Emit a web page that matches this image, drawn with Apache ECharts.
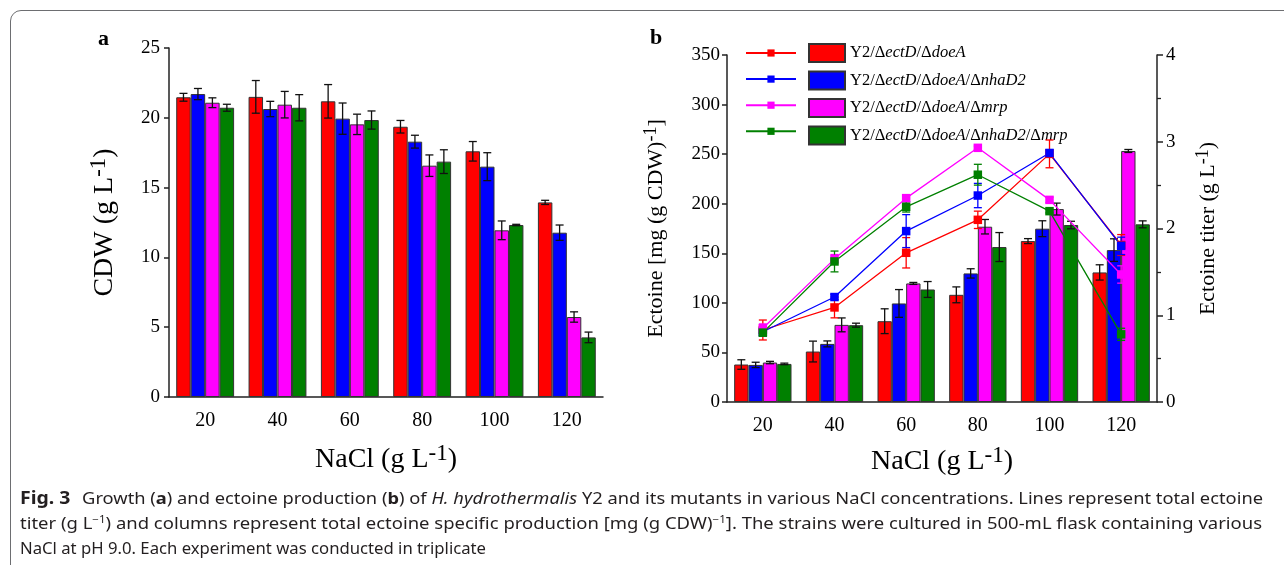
<!DOCTYPE html>
<html>
<head>
<meta charset="utf-8">
<script src="https://cdn.jsdelivr.net/npm/echarts@6/dist/echarts.min.js"></script>
<style>
  html, body { margin: 0; padding: 0; background: #fff; }
  body { width: 1284px; height: 565px; overflow: hidden; position: relative; }
  #chart { position: absolute; left: 0; top: 0; width: 1284px; height: 565px; }
  #frame { position: absolute; left: 10px; top: 10px; width: 1400px; height: 700px;
           border: 1px solid #6d6e71; border-radius: 11px; }
  #caption { position: absolute; left: 20px; top: 485px; color: #231f20;
             font-family: "Liberation Sans Narrow", "Noto Sans", sans-serif; font-size: 16px; }
  #caption div { white-space: nowrap; height: 25.5px; line-height: 25.5px; transform-origin: 0 50%; }
  #caption sup { font-size: 10px; line-height: 0; }
  #caption .fig { font-weight: bold; font-size: 17px; margin-right: 6px; }
</style>
</head>
<body>
<div id="frame"></div>
<div id="chart"></div>
<div id="caption">
  <div data-w="1243"><span class="fig">Fig. 3</span> Growth (<b>a</b>) and ectoine production (<b>b</b>) of <i>H. hydrothermalis</i> Y2 and its mutants in various NaCl concentrations. Lines represent total ectoine</div>
  <div data-w="1242">titer (g L<sup>−1</sup>) and columns represent total ectoine specific production [mg (g CDW)<sup>−1</sup>]. The strains were cultured in 500-mL flask containing various</div>
  <div data-w="466">NaCl at pH 9.0. Each experiment was conducted in triplicate</div>
</div>
<script>
// NaCl concentrations (g/L)
const nacl = ['20', '40', '60', '80', '100', '120'];

// strains (legend labels)
const strains = ['Y2/ΔectD/ΔdoeA', 'Y2/ΔectD/ΔdoeA/ΔnhaD2', 'Y2/ΔectD/ΔdoeA/Δmrp', 'Y2/ΔectD/ΔdoeA/ΔnhaD2/Δmrp'];
const colors = ['#ff0000', '#0000ff', '#ff00ff', '#008000'];

// panel a: CDW (g/L)
const cdw1 = [21.47, 21.5, 21.18, 19.36, 17.6, 13.94];
const cdw2 = [21.7, 20.63, 19.94, 18.29, 16.5, 11.77];
const cdw3 = [21.08, 20.94, 19.53, 16.57, 11.94, 5.73];
const cdw4 = [20.72, 20.72, 19.84, 16.86, 12.32, 4.27];
const cdwErr1 = [0.28, 1.17, 1.2, 0.45, 0.7, 0.15];
const cdwErr2 = [0.4, 0.55, 1.12, 0.46, 1.0, 0.55];
const cdwErr3 = [0.35, 0.95, 0.73, 0.77, 0.67, 0.37];
const cdwErr4 = [0.25, 0.94, 0.65, 0.85, 0.05, 0.38];

// panel b columns: specific production [mg (g CDW)^-1]
const prod1 = [37.8, 50.9, 81.5, 108.1, 162.3, 130.7];
const prod2 = [37.4, 58.6, 99.4, 129.7, 174.8, 153.2];
const prod3 = [39.8, 77.8, 119.6, 176.8, 194.6, 253.2];
const prod4 = [38.4, 77.5, 113.5, 156.3, 178.5, 179.2];
const prodErr1 = [4.8, 10.5, 12.5, 8, 2.5, 7.7];
const prodErr2 = [2.7, 3, 14, 4.7, 8, 11.4];
const prodErr3 = [1.2, 7, 1, 7.3, 6, 1.5];
const prodErr4 = [0.8, 2, 8, 14.6, 3.8, 3.5];

// panel b lines: ectoine titer (g/L)
const titer1 = [0.83, 1.09, 1.72, 2.10, 2.86, 1.81];
const titer2 = [0.81, 1.21, 1.97, 2.38, 2.87, 1.80];
const titer3 = [0.85, 1.65, 2.35, 2.93, 2.33, 1.47];
const titer4 = [0.80, 1.62, 2.25, 2.62, 2.20, 0.78];
const titerErr1 = [0.115, 0.12, 0.175, 0.1, 0.16, 0.12];
const titerErr2 = [0.05, 0.03, 0.19, 0.14, 0.04, 0.1];
const titerErr3 = [0.05, 0.05, 0.04, 0.02, 0.03, 0.1];
const titerErr4 = [0.04, 0.12, 0.06, 0.12, 0.02, 0.07];

const cdw = [cdw1, cdw2, cdw3, cdw4];
const cdwErr = [cdwErr1, cdwErr2, cdwErr3, cdwErr4];
const prod = [prod1, prod2, prod3, prod4];
const prodErr = [prodErr1, prodErr2, prodErr3, prodErr4];
const titer = [titer1, titer2, titer3, titer4];
const titerErr = [titerErr1, titerErr2, titerErr3, titerErr4];

const serif = 'Liberation Serif, Times New Roman, serif';
const axisColor = '#222';

// rich styles for "(g L-1)" style names
function supRich(size, supSize, lift) {
  return {
    n: { fontFamily: serif, fontSize: size, color: '#000' },
    s: { fontFamily: serif, fontSize: supSize, color: '#000', padding: [0, 0, lift, 0] }
  };
}

// legend labels with italic gene names
const legendRich = {
  n: { fontFamily: serif, fontSize: 16.5, color: '#000', lineHeight: 18 },
  i: { fontFamily: serif, fontSize: 16.5, color: '#000', fontStyle: 'italic', lineHeight: 18 }
};
function legendLabel(name) {
  return name.split('/').map((p, k) => {
    if (k === 0) return '{n|' + p + '}';
    return '{n|/Δ}{i|' + p.slice(1) + '}';
  }).join('');
}

// error bar renderer; slot = index of bar in group (or null for line points)
function errRender(slot, color, nBars) {
  return function (params, api) {
    const cat = api.value(0), v = api.value(1), e = api.value(2);
    let x = api.coord([cat, v])[0];
    if (slot !== null) {
      const bw = api.size([1, 0])[0] * 0.8 / nBars;
      x += (slot - (nBars - 1) / 2) * bw;
    }
    const y1 = api.coord([cat, v + e])[1];
    const y2 = api.coord([cat, v - e])[1];
    const c = 4;
    const st = { stroke: color, lineWidth: 1.3 };
    return {
      type: 'group',
      children: [
        { type: 'line', shape: { x1: x, y1: y1, x2: x, y2: y2 }, style: st },
        { type: 'line', shape: { x1: x - c, y1: y1, x2: x + c, y2: y1 }, style: st },
        { type: 'line', shape: { x1: x - c, y1: y2, x2: x + c, y2: y2 }, style: st }
      ]
    };
  };
}

function errData(vals, errs) {
  return vals.map((v, i) => [i, v, errs[i]]);
}

const commonCatAxis = {
  type: 'category',
  data: nacl,
  axisLine: { lineStyle: { color: axisColor, width: 1.5 } },
  axisTick: { alignWithLabel: true, length: 5, lineStyle: { color: axisColor, width: 1.5 } },
  axisLabel: { fontFamily: serif, fontSize: 20, color: '#000', margin: 14 },
  nameLocation: 'middle',
  nameTextStyle: { rich: supRich(28, 23, 12) }
};

const series = [];

// panel a bars + errors
cdw.forEach((d, k) => {
  series.push({
    type: 'bar', name: strains[k] + ' a', xAxisIndex: 0, yAxisIndex: 0, data: d,
    barGap: '0%', barCategoryGap: '20%',
    itemStyle: { color: colors[k], borderColor: '#333', borderWidth: 1 }, z: 2
  });
});
cdw.forEach((d, k) => {
  series.push({
    type: 'custom', xAxisIndex: 0, yAxisIndex: 0, data: errData(d, cdwErr[k]),
    renderItem: errRender(k, '#111', 4), z: 3, silent: true
  });
});

// panel b bars + errors
prod.forEach((d, k) => {
  series.push({
    type: 'bar', name: strains[k], xAxisIndex: 1, yAxisIndex: 1, data: d,
    barGap: '0%', barCategoryGap: '20%',
    itemStyle: { color: colors[k], borderColor: '#333', borderWidth: 1 }, z: 2
  });
});
prod.forEach((d, k) => {
  series.push({
    type: 'custom', xAxisIndex: 1, yAxisIndex: 1, data: errData(d, prodErr[k]),
    renderItem: errRender(k, '#111', 4), z: 3, silent: true
  });
});

// panel b lines + errors (right axis)
titer.forEach((d, k) => {
  series.push({
    type: 'line', name: 'line' + k, xAxisIndex: 1, yAxisIndex: 2, data: d,
    symbol: 'rect', symbolSize: 8.5,
    lineStyle: { color: colors[k], width: 1.3 },
    itemStyle: { color: colors[k] }, z: 5
  });
});
titer.forEach((d, k) => {
  series.push({
    type: 'custom', xAxisIndex: 1, yAxisIndex: 2, data: errData(d, titerErr[k]),
    renderItem: errRender(null, colors[k], 4), z: 4, silent: true
  });
});

const chart = echarts.init(document.getElementById('chart'), null, { renderer: 'canvas' });

chart.setOption({
  animation: false,
  backgroundColor: 'transparent',
  title: [
    { text: 'a', left: 93, top: 23, textStyle: { fontFamily: serif, fontSize: 22, fontWeight: 'bold', color: '#000' } },
    { text: 'b', left: 645, top: 22, textStyle: { fontFamily: serif, fontSize: 22, fontWeight: 'bold', color: '#000' } }
  ],
  legend: [
    {
      data: ['line0', 'line1', 'line2', 'line3'],
      orient: 'vertical', left: 740, top: 43.5,
      itemWidth: 50, itemHeight: 9, itemGap: 18,
      formatter: () => '', selectedMode: false
    },
    {
      data: strains,
      orient: 'vertical', left: 803, top: 38,
      icon: 'rect',
      itemWidth: 36, itemHeight: 18, itemGap: 7.5,
      formatter: legendLabel,
      textStyle: { rich: legendRich },
      selectedMode: false
    }
  ],
  grid: [
    { left: 169, top: 48, width: 434, height: 349 },
    { left: 727, top: 55, width: 430, height: 347 }
  ],
  xAxis: [
    Object.assign({}, commonCatAxis, { gridIndex: 0, name: '{n|NaCl (g L}{s|-1}{n|)}', nameGap: 45 }),
    Object.assign({}, commonCatAxis, { gridIndex: 1, name: '{n|NaCl (g L}{s|-1}{n|)}', nameGap: 42 })
  ],
  yAxis: [
    {
      type: 'value', gridIndex: 0, min: 0, max: 25, interval: 5,
      axisLine: { show: true, lineStyle: { color: axisColor, width: 1.5 } },
      axisTick: { show: true, length: 5, lineStyle: { color: axisColor, width: 1.5 } },
      splitLine: { show: false },
      axisLabel: { fontFamily: serif, fontSize: 19, color: '#000', margin: 9 },
      name: '{n|CDW (g L}{s|-1}{n|)}', nameLocation: 'middle', nameRotate: 90, nameGap: 47,
      nameTextStyle: { rich: supRich(28, 23, 12) }
    },
    {
      type: 'value', gridIndex: 1, min: 0, max: 350, interval: 50,
      axisLine: { show: true, lineStyle: { color: axisColor, width: 1.5 } },
      axisTick: { show: true, length: 5, lineStyle: { color: axisColor, width: 1.5 } },
      splitLine: { show: false },
      axisLabel: { fontFamily: serif, fontSize: 19, color: '#000', margin: 7 },
      name: '{n|Ectoine [mg (g CDW)}{s|-1}{n|]}', nameLocation: 'middle', nameRotate: 90, nameGap: 57,
      nameTextStyle: { rich: supRich(22, 18, 10) }
    },
    {
      type: 'value', gridIndex: 1, position: 'right', min: 0, max: 4, interval: 1,
      axisLine: { show: true, lineStyle: { color: axisColor, width: 1.5 } },
      axisTick: { show: true, length: 6, lineStyle: { color: axisColor, width: 1.5 } },
      minorTick: { show: true, splitNumber: 2, length: 4, lineStyle: { color: axisColor, width: 1.3 } },
      splitLine: { show: false },
      axisLabel: { fontFamily: serif, fontSize: 19, color: '#000', margin: 9 },
      name: '{n|Ectoine titer (g L}{s|-1}{n|)}', nameLocation: 'middle', nameRotate: 90, nameGap: 37,
      nameTextStyle: { rich: supRich(22, 18, 10) }
    }
  ],
  series: series
});

// stretch each caption line to the width it has in the figure
document.querySelectorAll('#caption div').forEach(el => {
  const target = +el.dataset.w;
  el.style.display = 'inline-block';
  const w = el.getBoundingClientRect().width;
  el.style.display = 'block';
  el.style.transform = 'scaleX(' + (target / w).toFixed(4) + ')';
});
</script>
</body>
</html>
